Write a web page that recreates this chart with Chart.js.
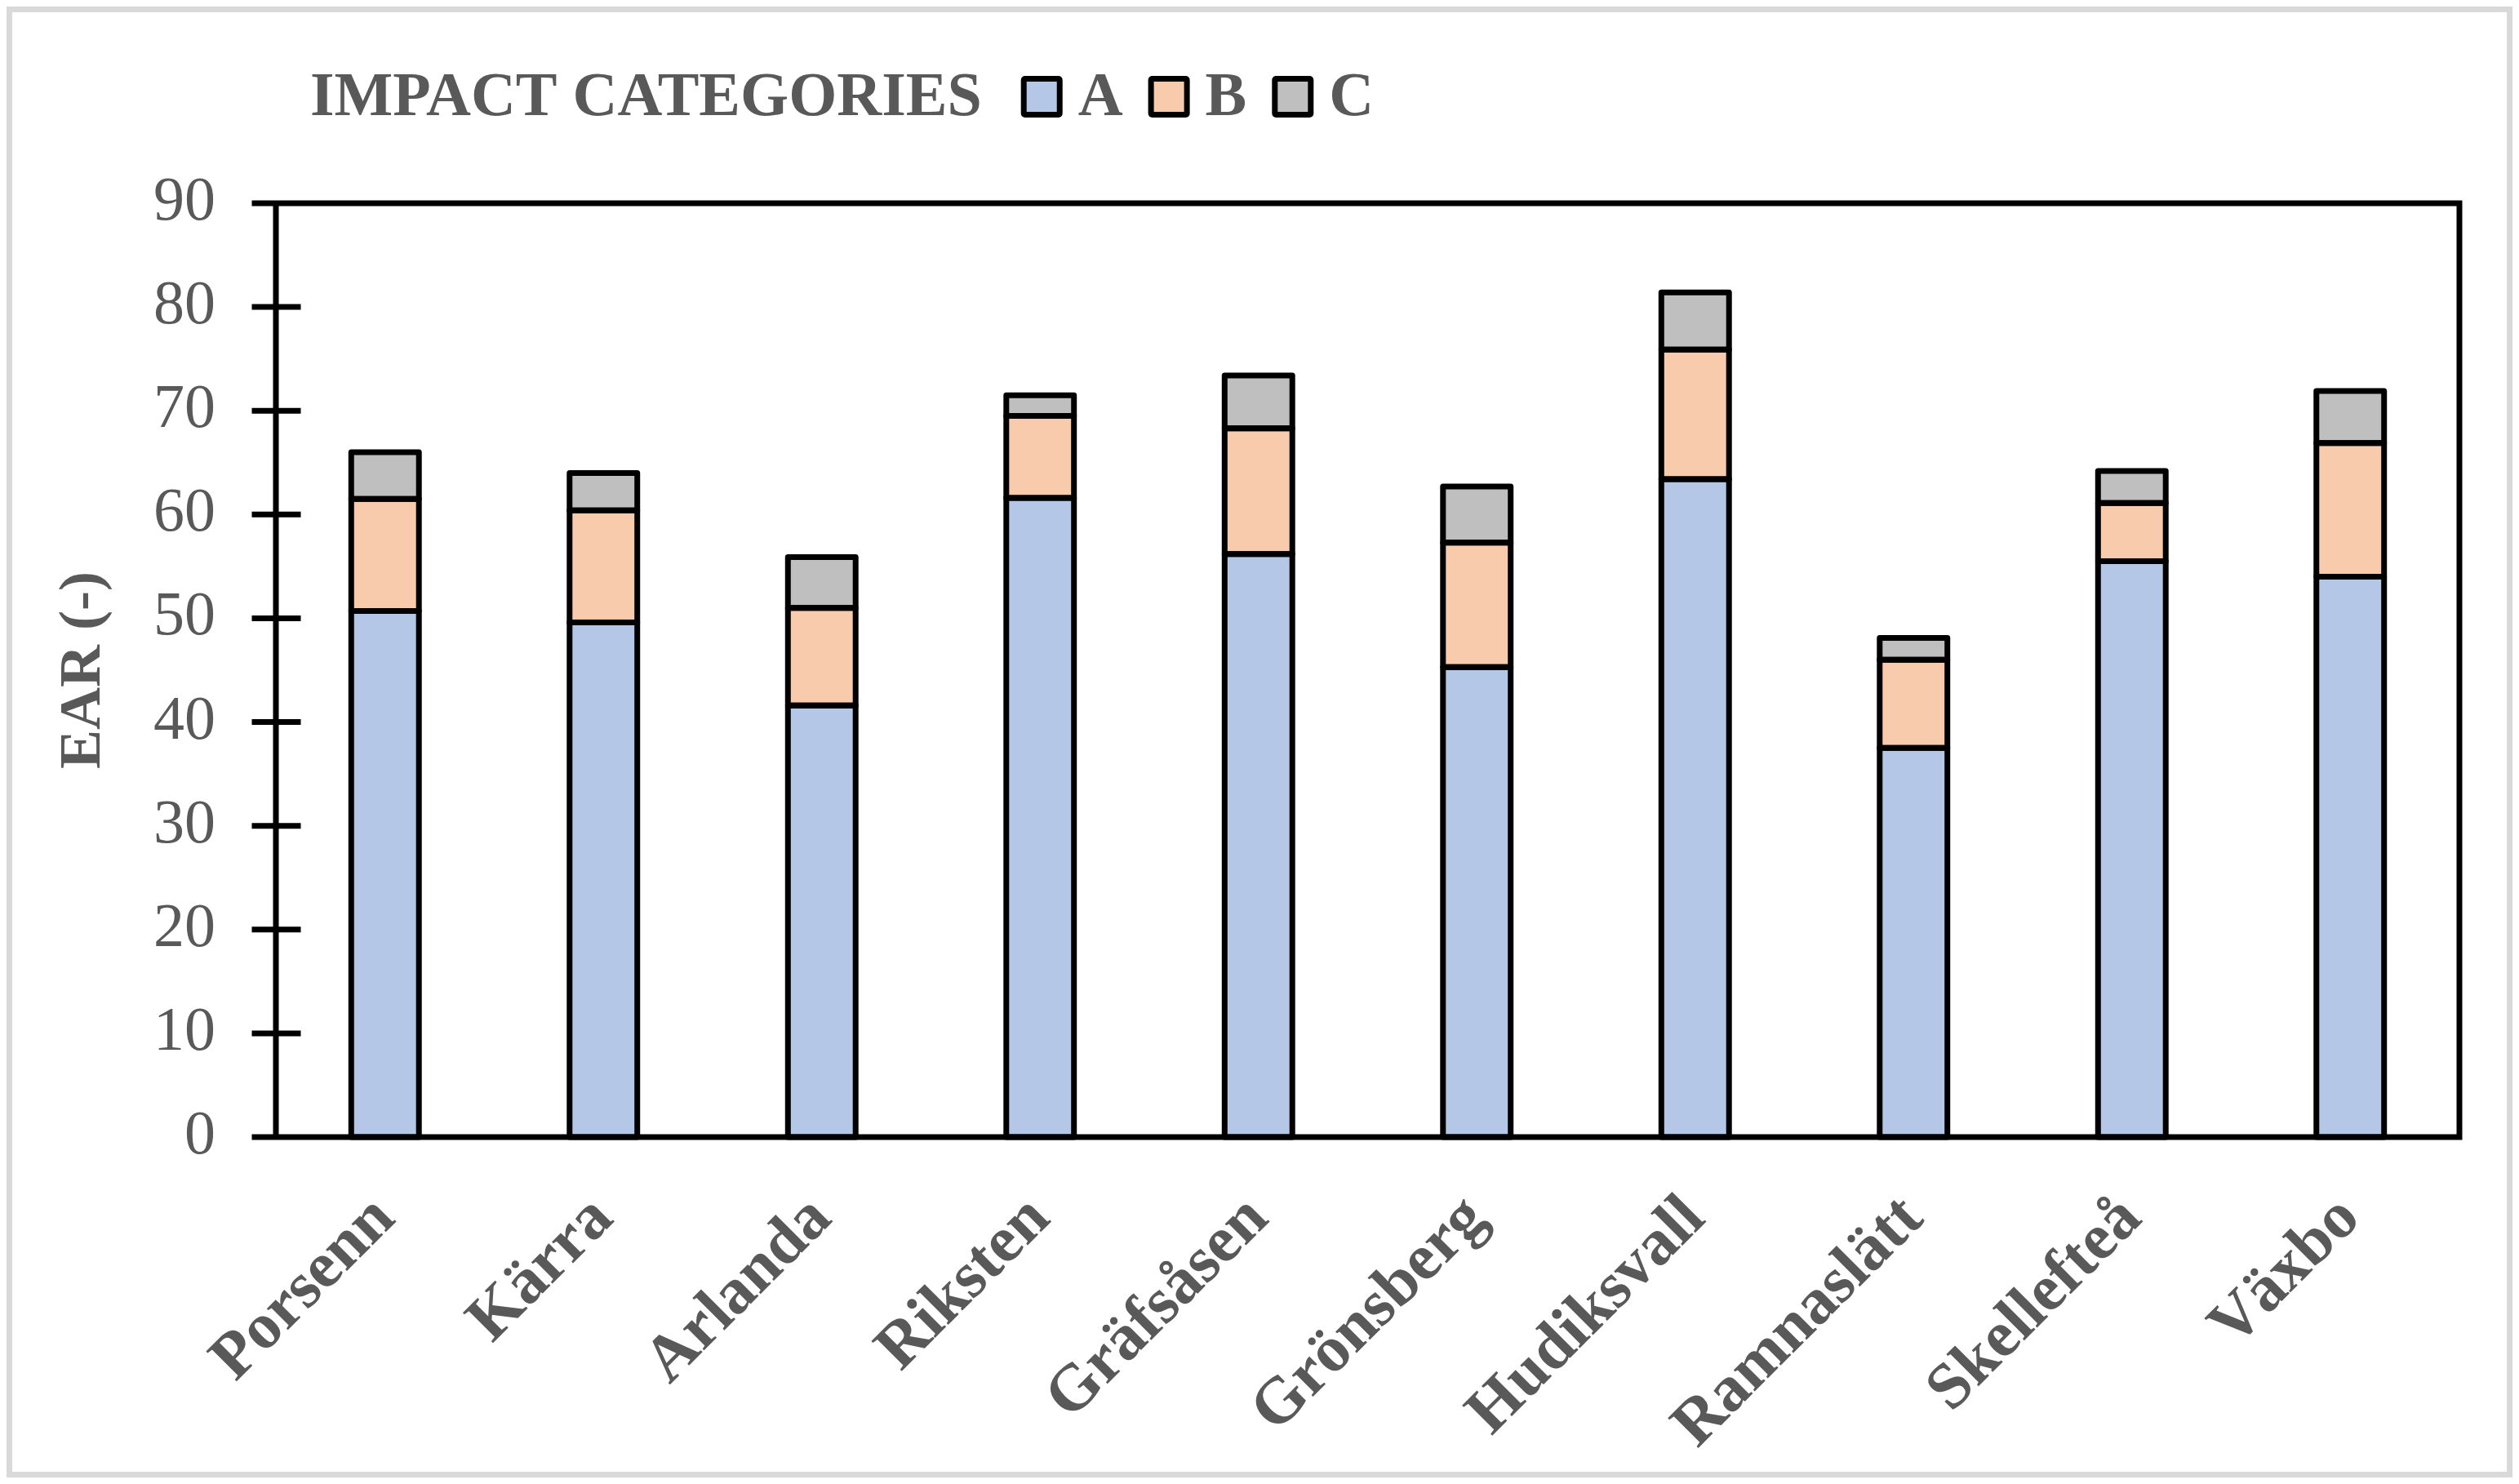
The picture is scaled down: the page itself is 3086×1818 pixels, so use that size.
<!DOCTYPE html>
<html>
<head>
<meta charset="utf-8">
<script src="https://cdn.jsdelivr.net/npm/chart.js@4"></script>
<style>
  html, body { margin: 0; padding: 0; background: #fff; }
  #wrap { width: 3086px; height: 1818px; }
</style>
</head>
<body>
<div id="wrap"><canvas id="earChart" width="3086" height="1818"></canvas></div>
<script>
// sites on the x axis
const sites = ['Porsenn', 'Kärra', 'Arlanda', 'Riksten', 'Gräfsåsen', 'Grönsberg', 'Hudiksvall', 'Ramnaslätt', 'Skellefteå', 'Växbo'];

// EAR per impact category (stacked)
const catA = [50.7, 49.6, 41.6, 61.6, 56.2, 45.3, 63.4, 37.5, 55.5, 54.0];
const catB = [10.8, 10.8, 9.4, 7.9, 12.1, 12.0, 12.5, 8.5, 5.6, 12.9];
const catC = [4.5, 3.6, 4.9, 2.0, 5.1, 5.4, 5.5, 2.1, 3.1, 5.0];

const seriesNames = ['A', 'B', 'C'];
const legendTitle = 'IMPACT CATEGORIES';
const yTitle = 'EAR (-)';
const yMin = 0, yMax = 90, yStep = 10;

const textGrey = '#595959';
const serif = "'Liberation Serif', 'Times New Roman', serif";

// white page + light grey outer frame
const pageFrame = {
  id: 'pageFrame',
  beforeDraw(chart) {
    const ctx = chart.ctx;
    ctx.save();
    ctx.fillStyle = '#fff';
    ctx.fillRect(0, 0, chart.width, chart.height);
    ctx.strokeStyle = '#d9d9d9';
    ctx.lineWidth = 7;
    ctx.strokeRect(11.5, 11.5, chart.width - 23, chart.height - 23);
    ctx.restore();
  }
};

// bar outlines centred on the segment edges (excel style), then the plot box
const plotFrame = {
  id: 'plotFrame',
  afterDatasetsDraw(chart) {
    const { ctx, chartArea: a } = chart;
    ctx.save();
    ctx.strokeStyle = '#000';
    ctx.lineWidth = 7;
    ctx.lineJoin = 'round';
    chart.data.datasets.forEach((ds, i) => {
      chart.getDatasetMeta(i).data.forEach(bar => {
        const p = bar.getProps(['x', 'y', 'base', 'width'], true);
        const top = Math.min(p.y, p.base);
        ctx.strokeRect(p.x - p.width / 2, top, p.width, Math.abs(p.base - p.y));
      });
    });

    const y = chart.scales.y;
    ctx.lineCap = 'square';
    ctx.beginPath();
    ctx.moveTo(a.left - 26, a.top); ctx.lineTo(a.right, a.top);
    ctx.moveTo(a.left - 26, a.bottom); ctx.lineTo(a.right, a.bottom);
    ctx.moveTo(a.left, a.top); ctx.lineTo(a.left, a.bottom);
    ctx.moveTo(a.right, a.top); ctx.lineTo(a.right, a.bottom);
    y.ticks.forEach((t, i) => {
      const py = y.getPixelForTick(i);
      ctx.moveTo(a.left - 26, py); ctx.lineTo(a.left + 27, py);
    });
    ctx.stroke();
    ctx.restore();
  }
};

// inline legend: title followed by the boxes
const inlineLegend = {
  id: 'inlineLegend',
  afterDraw(chart) {
    const ctx = chart.ctx;
    const box = 51, baseline = 141;
    ctx.save();
    ctx.font = "bold 76px " + serif;
    ctx.fillStyle = textGrey;
    ctx.textBaseline = 'alphabetic';
    let x = 380;
    ctx.fillText(legendTitle, x, baseline);
    x += ctx.measureText(legendTitle).width + 48;
    chart.data.datasets.forEach(ds => {
      ctx.fillStyle = '#000';
      ctx.beginPath();
      ctx.roundRect(x, baseline - 48, box, box, 5);
      ctx.fill();
      ctx.fillStyle = ds.backgroundColor;
      ctx.fillRect(x + 7, baseline - 41, box - 14, box - 14);
      x += box + 19;
      ctx.fillStyle = textGrey;
      ctx.fillText(ds.label, x, baseline);
      x += ctx.measureText(ds.label).width + 31;
    });
    ctx.restore();
  }
};

function makeSet(label, data, color) {
  return {
    label: label,
    data: data,
    backgroundColor: color,
    borderWidth: 0,
    barPercentage: 0.31,
    categoryPercentage: 1.0
  };
}

new Chart(document.getElementById('earChart').getContext('2d'), {
  type: 'bar',
  data: {
    labels: sites,
    datasets: [
      makeSet(seriesNames[0], catA, '#B4C7E7'),
      makeSet(seriesNames[1], catB, '#F8CBAD'),
      makeSet(seriesNames[2], catC, '#BFBFBF')
    ]
  },
  options: {
    responsive: false,
    animation: false,
    devicePixelRatio: 1,
    layout: { padding: { top: 249, right: 73, left: 0, bottom: 0 } },
    plugins: {
      legend: { display: false },
      tooltip: { enabled: false }
    },
    scales: {
      x: {
        stacked: true,
        grid: { display: false, drawTicks: false },
        border: { display: false },
        ticks: {
          color: textGrey,
          font: { family: serif, size: 80, weight: 'bold' },
          minRotation: 45,
          maxRotation: 45,
          padding: 54
        },
        afterFit: (scale) => { scale.height = 1818 - 1393; }
      },
      y: {
        stacked: true,
        min: yMin,
        max: yMax,
        grid: { display: false, drawTicks: false },
        border: { display: false },
        ticks: {
          stepSize: yStep,
          color: textGrey,
          font: { family: serif, size: 76 },
          padding: 74
        },
        title: {
          display: true,
          text: yTitle,
          color: textGrey,
          font: { family: serif, size: 72, weight: 'bold' },
          padding: { top: 60, bottom: 0 }
        },
        afterFit: (scale) => { scale.width = 338; }
      }
    }
  },
  plugins: [pageFrame, plotFrame, inlineLegend]
});
</script>
</body>
</html>
